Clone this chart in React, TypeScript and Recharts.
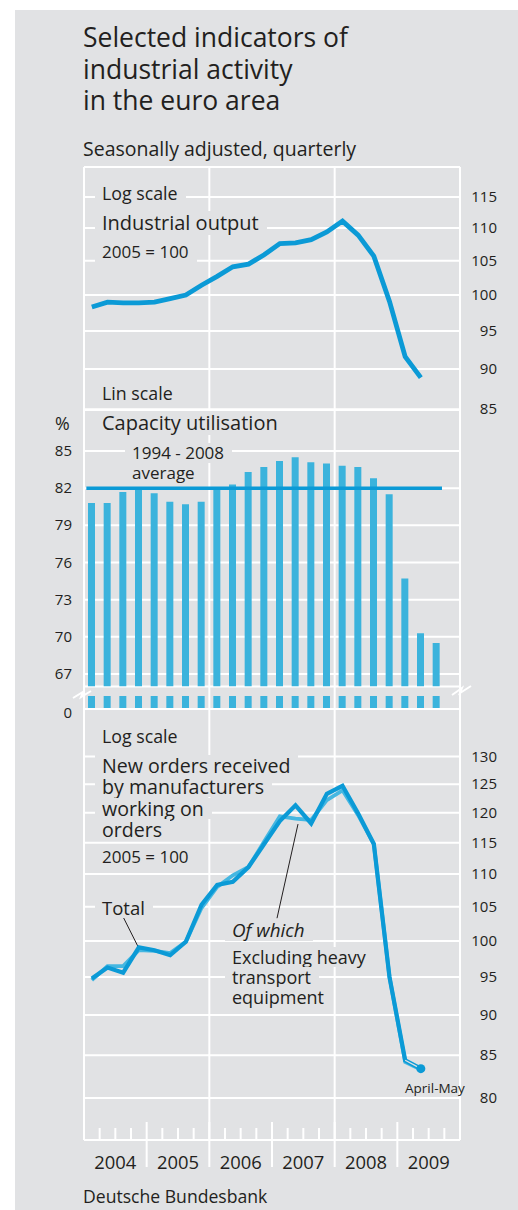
import React from 'react';
import { LineChart, Line, BarChart, Bar, XAxis, YAxis, CartesianGrid, ReferenceLine } from 'recharts';

const FONT = '"Open Sans", "Noto Sans", sans-serif';
const INK = '#231f20';
const PAPER = '#e1e2e4';
const GRID = '#ffffff';
const DARK_BLUE = '#0b9ad6';   // main lines, average
const LIGHT_BLUE = '#45b7e1';  // "excluding heavy transport"
const BAR_BLUE = '#3bb3dc';

// quarters run 2004 Q1 ... 2009 Q3, x axis counts quarters from start of 2004
const YEARS = ['2004', '2005', '2006', '2007', '2008', '2009'];
const YEAR_LINES = [0, 8, 16, 24];

// industrial output, 2005 = 100 (2004 Q1 - 2009 Q2)
const OUTPUT = [98.3, 99.0, 98.9, 98.9, 99.0, 99.5, 100.0, 101.4, 102.7, 104.1, 104.5, 105.9,
  107.6, 107.7, 108.2, 109.4, 111.1, 108.9, 105.7, 99.1, 91.6, 88.9];
const OUTPUT_TICKS = [85, 90, 95, 100, 105, 110, 115];

// capacity utilisation, % (2004 Q1 - 2009 Q3)
const CAPACITY = [80.8, 80.8, 81.7, 81.9, 81.6, 80.9, 80.7, 80.9, 81.9, 82.3, 83.3, 83.7,
  84.2, 84.5, 84.1, 84.0, 83.8, 83.7, 82.8, 81.5, 74.7, 70.3, 69.5];
const CAPACITY_AVERAGE = 82;
const CAPACITY_TICKS = [67, 70, 73, 76, 79, 82, 85];

// new orders, 2005 = 100 (2004 Q1 - 2009 April-May)
const ORDERS_TOTAL = [94.8, 96.3, 95.6, 99.1, 98.7, 98.0, 99.9, 105.3, 108.3, 108.8, 111.1, 114.8,
  118.6, 121.3, 118.2, 123.3, 124.7, 119.9, 114.8, 95.0, 84.4, 83.4];
const ORDERS_EXCL = [94.6, 96.5, 96.5, 98.7, 98.6, 98.3, 99.9, 104.8, 108.0, 109.8, 111.1, 115.2,
  119.4, 119.0, 118.8, 122.2, 123.9, 119.6, 114.8, 95.0, 84.2, 83.3];
const ORDERS_TICKS = [80, 85, 90, 95, 100, 105, 110, 115, 120, 125, 130];

const outputData = OUTPUT.map((v, i) => ({ q: i + 0.5, v }));
const capacityData = CAPACITY.map((v, i) => ({ q: i + 0.5, v }));
const last = ORDERS_TOTAL.length - 1;
const ordersData = ORDERS_TOTAL.map((v, i) => ({
  q: i + 0.5,
  total: v,
  excl: ORDERS_EXCL[i],
  recent: i >= last - 1 ? v : null,
}));
const quarterTicks = Array.from({ length: 25 }, (_, i) => i);

const txt = { fontFamily: FONT, fill: INK };

const RightTick = (p: any) => (
  <text x={p.x + 37} y={p.y} dy={5} textAnchor="end" fontSize={15} {...txt}>{p.payload.value}</text>
);

const LeftTick = (p: any) => (
  <text x={p.x - 12} y={p.y} dy={5} textAnchor="end" fontSize={15} {...txt}>{p.payload.value}</text>
);

const ZeroTick = (p: any) => (
  <text x={p.x - 12} y={p.y} dy={9} textAnchor="end" fontSize={15} {...txt}>{p.payload.value}</text>
);

const YearTick = (p: any) => {
  const v = p.payload.value;
  const { x, y } = p;
  if (v === 0 || v === 24) return <g />;
  const yearEdge = v % 4 === 0;
  return (
    <g>
      <line x1={x} x2={x} y1={yearEdge ? y - 18 : y - 12} y2={yearEdge ? y + 27 : y} stroke={GRID} strokeWidth={2} />
      {v % 4 === 2 && (
        <text x={x} y={y + 29} textAnchor="middle" fontSize={18.4} {...txt}>{YEARS[(v - 2) / 4]}</text>
      )}
    </g>
  );
};

// label on a paper-coloured box, so the grid breaks around it
const Tag = ({ x, y, size = 18, lh = 20, italic = false, children }: any) => (
  <div style={{
    position: 'absolute', left: x - 7, top: y - lh / 2, padding: '0 8px 0 7px',
    background: PAPER, fontSize: size, lineHeight: `${lh}px`, fontFamily: FONT, color: INK,
    fontStyle: italic ? 'italic' : 'normal', whiteSpace: 'nowrap',
  }}>{children}</div>
);

const Plain = ({ x, y, size = 16, lh = 20, children }: any) => (
  <div style={{
    position: 'absolute', left: x, top: y - lh / 2, fontSize: size, lineHeight: `${lh}px`,
    fontFamily: FONT, color: INK, whiteSpace: 'nowrap',
  }}>{children}</div>
);

const at = (top: number): React.CSSProperties => ({ position: 'absolute', left: 0, top });

export default function App() {
  return (
    <div style={{ position: 'absolute', left: 0, top: 0, width: 518, height: 1210, background: '#fff', overflow: 'hidden' }}>
      <div style={{ position: 'absolute', left: 15, top: 10, right: 0, bottom: 0, background: PAPER }} />

      {/* industrial output, log scale */}
      <div style={at(150)}>
        <LineChart width={518} height={270} data={outputData} margin={{ top: 17, right: 13, bottom: 10, left: 84 }}>
          <CartesianGrid vertical={false} stroke={GRID} strokeWidth={2} />
          <XAxis dataKey="q" type="number" domain={[0, 24]} hide />
          <YAxis orientation="right" width={45} scale="log" domain={[84.9, 120]} allowDataOverflow
            ticks={OUTPUT_TICKS} axisLine={false} tickLine={false} tickSize={0} tickMargin={0} tick={RightTick} />
          <ReferenceLine y={120} stroke={GRID} strokeWidth={2} />
          {YEAR_LINES.map((x) => <ReferenceLine key={x} x={x} stroke={GRID} strokeWidth={2} />)}
          <Line dataKey="v" stroke={DARK_BLUE} strokeWidth={4.8} dot={false} isAnimationActive={false} />
        </LineChart>
      </div>

      {/* capacity utilisation, upper part of broken axis */}
      <div style={at(400)}>
        <BarChart width={518} height={296} data={capacityData} margin={{ top: 10, right: 58, bottom: 9.6, left: 0 }}>
          <CartesianGrid vertical={false} stroke={GRID} strokeWidth={2} />
          <XAxis dataKey="q" type="number" domain={[0, 24]} hide />
          <YAxis width={84} domain={[66, 88.31]} allowDataOverflow ticks={CAPACITY_TICKS}
            axisLine={false} tickLine={false} tickSize={0} tickMargin={0} tick={LeftTick} />
          {YEAR_LINES.map((x) => <ReferenceLine key={x} x={x} stroke={GRID} strokeWidth={2} />)}
          <Bar dataKey="v" fill={BAR_BLUE} barSize={7} isAnimationActive={false} />
          <ReferenceLine segment={[{ x: 0.15, y: CAPACITY_AVERAGE }, { x: 22.85, y: CAPACITY_AVERAGE }]}
            stroke={DARK_BLUE} strokeWidth={3.5} />
        </BarChart>
      </div>

      {/* capacity utilisation, stubs down to zero */}
      <div style={at(686)}>
        <BarChart width={518} height={42} data={capacityData} margin={{ top: 10, right: 58, bottom: 19, left: 0 }}>
          <XAxis dataKey="q" type="number" domain={[0, 24]} hide />
          <YAxis width={84} domain={[0, 1]} allowDataOverflow ticks={[0]}
            axisLine={false} tickLine={false} tickSize={0} tickMargin={0} tick={ZeroTick} />
          {YEAR_LINES.map((x) => (
            <ReferenceLine key={x} segment={[{ x, y: 0 }, { x, y: 1.78 }]} ifOverflow="visible" stroke={GRID} strokeWidth={2} />
          ))}
          <Bar dataKey="v" fill={BAR_BLUE} barSize={7} isAnimationActive={false} />
          <ReferenceLine y={0} stroke={GRID} strokeWidth={2} />
        </BarChart>
      </div>

      {/* new orders, log scale */}
      <div style={at(700)}>
        <LineChart width={518} height={480} data={ordersData} margin={{ top: 9, right: 13, bottom: 0, left: 84 }}>
          <CartesianGrid vertical={false} stroke={GRID} strokeWidth={2} />
          <XAxis dataKey="q" type="number" domain={[0, 24]} ticks={quarterTicks} interval={0} height={40}
            axisLine={{ stroke: GRID, strokeWidth: 2 }} tickLine={false} tickSize={0} tickMargin={0} tick={YearTick} />
          <YAxis orientation="right" width={45} scale="log" domain={[75.35, 139.1]} allowDataOverflow
            ticks={ORDERS_TICKS} axisLine={false} tickLine={false} tickSize={0} tickMargin={0} tick={RightTick} />
          {YEAR_LINES.map((x) => <ReferenceLine key={x} x={x} stroke={GRID} strokeWidth={2} />)}
          <ReferenceLine segment={[{ x: 2.43, y: 103.8 }, { x: 3.45, y: 99.2 }]} stroke={INK} strokeWidth={1} />
          <ReferenceLine segment={[{ x: 12.32, y: 103.3 }, { x: 13.66, y: 118.1 }]} stroke={INK} strokeWidth={1} />
          <Line dataKey="excl" stroke={LIGHT_BLUE} strokeWidth={3.8} dot={false} isAnimationActive={false} />
          <Line dataKey="total" stroke={DARK_BLUE} strokeWidth={4.2} dot={false} isAnimationActive={false} />
          <Line dataKey="recent" stroke={PAPER} strokeWidth={1.3} connectNulls={false} isAnimationActive={false}
            dot={(p: any) => p.index === last
              ? <circle key={p.key} cx={p.cx} cy={p.cy} r={4.5} fill={DARK_BLUE} />
              : <g key={p.key} />} />
        </LineChart>
      </div>

      {/* axis break marks */}
      <svg width={518} height={1210} style={{ position: 'absolute', left: 0, top: 0, pointerEvents: 'none' }}>
        <polyline points="73,698 83,692 81,697 91,691" fill="none" stroke={GRID} strokeWidth={2} />
        <polyline points="452,695 462,688 460,693 471,686" fill="none" stroke={GRID} strokeWidth={2} />
      </svg>

      {/* headings */}
      <div style={{ position: 'absolute', left: 83, top: 22, fontFamily: FONT, color: INK, fontSize: 26.5, lineHeight: '31.5px' }}>
        Selected indicators of<br />industrial activity<br />in the euro area
      </div>
      <Plain x={83} y={149} size={19.5} lh={24}>Seasonally adjusted, quarterly</Plain>

      <Tag x={102} y={193} size={17.8}>Log scale</Tag>
      <Tag x={102} y={223} size={20} lh={24}>Industrial output</Tag>
      <Tag x={102} y={252} size={17}>2005 = 100</Tag>

      <Tag x={102} y={393} size={17.8}>Lin scale</Tag>
      <Plain x={55} y={423} size={17.8}>%</Plain>
      <Tag x={102} y={423} size={20} lh={24}>Capacity utilisation</Tag>
      <Tag x={132} y={453} size={17} lh={20}>1994 - 2008</Tag>
      <Tag x={132} y={473} size={17} lh={20}>average</Tag>

      <Tag x={102} y={736} size={17.8}>Log scale</Tag>
      <Tag x={102} y={765} size={19.6} lh={21}>New orders received</Tag>
      <Tag x={102} y={786} size={19.6} lh={21}>by manufacturers</Tag>
      <Tag x={102} y={808} size={19.6} lh={21}>working on</Tag>
      <Tag x={102} y={829} size={19.6} lh={21}>orders</Tag>
      <Tag x={102} y={857} size={17}>2005 = 100</Tag>
      <Tag x={102} y={908} size={18.5} lh={20}>Total</Tag>
      <Tag x={232} y={930} size={18.8} lh={21} italic>Of which</Tag>
      <Tag x={232} y={957} size={18} lh={20}>Excluding heavy</Tag>
      <Tag x={232} y={977} size={18} lh={20}>transport</Tag>
      <Tag x={232} y={997} size={18} lh={20}>equipment</Tag>

      <div style={{ position: 'absolute', left: 405, top: 1079, fontFamily: FONT, color: INK, fontSize: 13.5, lineHeight: '18px', whiteSpace: 'nowrap' }}>
        April-May
      </div>

      <Plain x={83} y={1196} size={17.6}>Deutsche Bundesbank</Plain>
    </div>
  );
}
